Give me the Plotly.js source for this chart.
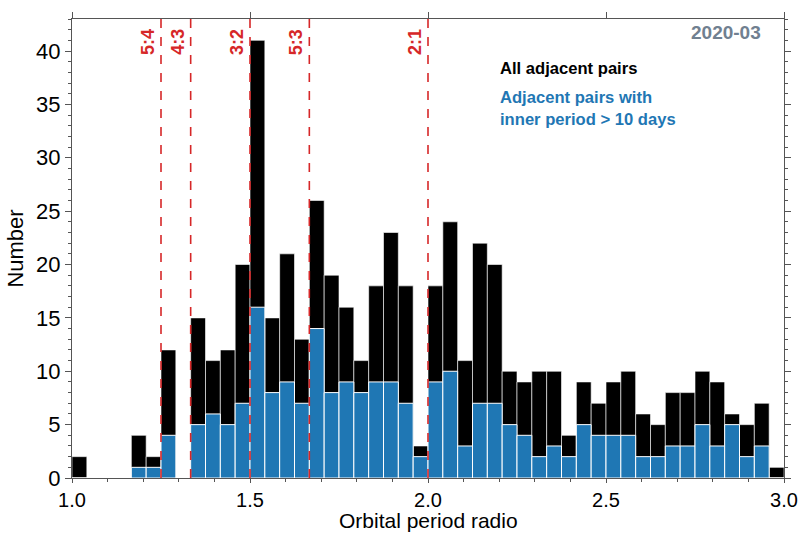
<!DOCTYPE html>
<html><head><meta charset="utf-8">
<script src="https://cdn.plot.ly/plotly-3.0.1.min.js"></script>
<style>body{margin:0;background:#fff}#chart{width:800px;height:533px}</style>
</head><body><div id="chart"></div>
<script>
// Histogram: bins of width 1/24 from 1.0 to 3.0
const binStart = 1.0;
const binWidth = 1 / 24;
const allPairs = [2,0,0,0,4,2,12,0,15,11,12,20,41,15,21,13,26,19,16,11,18,23,18,3,18,24,11,22,20,10,9,10,10,4,9,7,9,10,6,5,8,8,10,9,6,5,7,1];
const longPairs = [0,0,0,0,1,1,4,0,5,6,5,7,16,8,9,7,14,8,9,8,9,9,7,2,9,10,3,7,7,5,4,2,3,2,5,4,4,4,2,2,3,3,5,3,5,2,3,0];
const resonances = [1.25, 4/3, 1.5, 5/3, 2.0];
const resLabels = ['5:4', '4:3', '3:2', '5:3', '2:1'];
const xTicks = [1.0, 1.5, 2.0, 2.5, 3.0];
const xTickText = ['1.0', '1.5', '2.0', '2.5', '3.0'];

const centers = allPairs.map((_, i) => binStart + (i + 0.5) * binWidth);
const FONT = 'Liberation Sans, Arial, sans-serif';
const red = '#d62728';

const traces = [
  {type: 'bar', x: centers, y: allPairs, width: binWidth,
   marker: {color: '#000000', line: {color: '#ffffff', width: 0.6}}, hoverinfo: 'skip'},
  {type: 'bar', x: centers, y: longPairs, width: binWidth,
   marker: {color: '#1f77b4', line: {color: '#ffffff', width: 1}}, hoverinfo: 'skip'},
  {type: 'scatter', x: [1], y: [0], xaxis: 'x2', yaxis: 'y2', mode: 'markers',
   marker: {opacity: 0}, hoverinfo: 'skip'}
];

const shapes = resonances.map(r => ({
  type: 'line', xref: 'x', yref: 'paper', x0: r, x1: r, y0: 0, y1: 1,
  line: {color: red, width: 1.6, dash: 'dash'}
}));

const annotations = resonances.map((r, i) => ({
  xref: 'x', yref: 'paper', x: r, y: 1, xanchor: 'right', yanchor: 'top',
  xshift: -1, yshift: -8, textangle: -90, showarrow: false, text: resLabels[i],
  font: {family: FONT, size: 18, color: red, weight: 'bold'}
}));
annotations.push(
  {xref: 'paper', yref: 'paper', x: 0.599, y: 0.893, xanchor: 'left', yanchor: 'middle',
   showarrow: false, text: 'All adjacent pairs', align: 'left',
   font: {family: FONT, size: 16.6, color: '#000', weight: 'bold'}},
  {xref: 'paper', yref: 'paper', x: 0.599, y: 0.806, xanchor: 'left', yanchor: 'middle',
   showarrow: false, text: 'Adjacent pairs with<br>inner period > 10 days', align: 'left',
   font: {family: FONT, size: 16.6, color: '#1f77b4', weight: 'bold'}},
  {xref: 'paper', yref: 'paper', x: 0.9705, y: 0.9695, xanchor: 'right', yanchor: 'middle',
   showarrow: false, text: '2020-03',
   font: {family: FONT, size: 19, color: '#708090', weight: 'bold'}},
  {xref: 'paper', yref: 'paper', x: 0.5, y: -0.1198, xanchor: 'center', yanchor: 'bottom',
   borderpad: 0, showarrow: false, text: 'Orbital period radio',
   font: {family: FONT, size: 21, color: '#000'}}
);

const axisColor = '#555';
const layout = {
  width: 800, height: 533,
  margin: {l: 72, r: 16, t: 19, b: 55},
  paper_bgcolor: '#fff', plot_bgcolor: '#fff',
  barmode: 'overlay', bargap: 0, showlegend: false,
  font: {family: FONT, color: '#000'},
  xaxis: {range: [1, 3], tickvals: xTicks, ticktext: xTickText, ticks: 'outside',
    ticklen: 4, tickwidth: 1, tickcolor: axisColor, showline: true, linecolor: axisColor,
    linewidth: 1.2, showgrid: false, zeroline: false, tickfont: {size: 20},
    minor: {dtick: 0.1, ticks: 'outside', ticklen: 3, tickcolor: axisColor, showgrid: false}},
  yaxis: {range: [0, 43], dtick: 5, ticks: 'outside', ticklen: 6, tickwidth: 1,
    tickcolor: axisColor, showline: true, linecolor: axisColor, linewidth: 1.2,
    showgrid: false, zeroline: false, tickfont: {size: 22},
    minor: {dtick: 1, ticks: 'outside', ticklen: 3, tickcolor: axisColor, showgrid: false},
    title: {text: 'Number', font: {size: 22}, standoff: 6}},
  xaxis2: {overlaying: 'x', side: 'top', anchor: 'y2', range: [1, 3], tickvals: xTicks,
    showticklabels: false, ticks: 'outside', ticklen: 6, tickcolor: axisColor,
    showline: true, linecolor: axisColor, linewidth: 1.2, showgrid: false, zeroline: false},
  yaxis2: {overlaying: 'y', side: 'right', anchor: 'x2', range: [0, 43], dtick: 5,
    showticklabels: false, ticks: 'outside', ticklen: 6, tickcolor: axisColor,
    showline: true, linecolor: axisColor, linewidth: 1.2, showgrid: false, zeroline: false,
    minor: {dtick: 1, ticks: 'outside', ticklen: 3, tickcolor: axisColor, showgrid: false}},
  shapes: shapes,
  annotations: annotations
};

Plotly.newPlot('chart', traces, layout, {displayModeBar: false, staticPlot: true});
</script>
</body></html>
